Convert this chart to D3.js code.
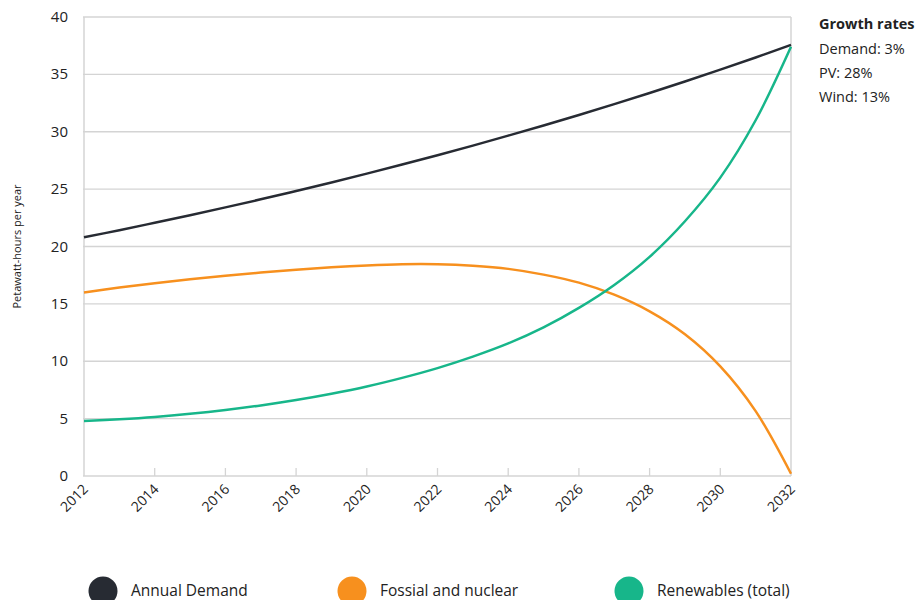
<!DOCTYPE html>
<html>
<head>
<meta charset="utf-8">
<script src="https://cdn.jsdelivr.net/npm/d3@7"></script>
<style>
  body { margin: 0; background: #fff; overflow: hidden; }
  svg { font-family: "Open Sans", Lato, sans-serif; }
</style>
</head>
<body>
<svg id="chart" width="917" height="600"></svg>
<script>
// years on the x axis
var years = d3.range(2012, 2033)
var xTicks = [2012, 2014, 2016, 2018, 2020, 2022, 2024, 2026, 2028, 2030, 2032]
var yTicks = [0, 5, 10, 15, 20, 25, 30, 35, 40]

// values (PWh per year)
var demand = [20.80, 21.42, 22.07, 22.73, 23.41, 24.11, 24.84, 25.58, 26.35, 27.14, 27.95,
              28.79, 29.66, 30.55, 31.46, 32.41, 33.38, 34.38, 35.41, 36.47, 37.57]
var fossil = [16.0, 16.42, 16.8, 17.14, 17.45, 17.73, 17.98, 18.19, 18.35, 18.45, 18.45,
              18.32, 18.05, 17.55, 16.85, 15.8, 14.35, 12.35, 9.55, 5.65, 0.2]
var renewables = [4.80, 4.95, 5.15, 5.42, 5.75, 6.15, 6.62, 7.17, 7.80, 8.55, 9.40,
                  10.40, 11.55, 12.95, 14.65, 16.65, 19.10, 22.20, 26.00, 31.00, 37.40]

var seriesNames = ["Annual Demand", "Fossial and nuclear", "Renewables (total)"]
var seriesColors = ["#272b33", "#f7901e", "#17b68a"]
var growth = ["Demand: 3%", "PV: 28%", "Wind: 13%"]

var svg = d3.select("#chart")
var margin = {left: 84, right: 126, top: 17, bottom: 124}
var width = 917, height = 600

var x = d3.scaleLinear().domain([2012, 2032]).range([margin.left, width - margin.right])
var y = d3.scaleLinear().domain([0, 40]).range([height - margin.bottom, margin.top])

// grid
svg.append("g")
  .selectAll("line")
  .data(yTicks)
  .join("line")
    .attr("x1", x(2012) - 1).attr("x2", x(2032))
    .attr("y1", d => y(d)).attr("y2", d => y(d))
    .attr("stroke", "#d4d4d4").attr("stroke-width", 1.3)

// left + right frame
svg.append("line")
  .attr("x1", x(2012)).attr("x2", x(2012)).attr("y1", y(40)).attr("y2", y(0))
  .attr("stroke", "#d4d4d4").attr("stroke-width", 1.5)
svg.append("line")
  .attr("x1", x(2032)).attr("x2", x(2032)).attr("y1", y(40)).attr("y2", y(0))
  .attr("stroke", "#d4d4d4").attr("stroke-width", 1.5)

// y axis labels
svg.append("g")
  .selectAll("text")
  .data(yTicks)
  .join("text")
    .attr("x", 68).attr("y", d => y(d) + 5)
    .attr("text-anchor", "end")
    .attr("font-size", 15)
    .attr("fill", "#222")
    .text(d => d)

svg.append("text")
  .attr("transform", `translate(21,${(y(0) + y(40)) / 2}) rotate(-90)`)
  .attr("text-anchor", "middle")
  .attr("font-size", 11)
  .attr("fill", "#222")
  .text("Petawatt-hours per year")

// x axis ticks + labels
svg.append("g")
  .selectAll("line")
  .data(xTicks.slice(1, -1))
  .join("line")
    .attr("x1", d => x(d)).attr("x2", d => x(d))
    .attr("y1", y(0) - 8).attr("y2", y(0))
    .attr("stroke", "#d4d4d4").attr("stroke-width", 1.3)

svg.append("g")
  .selectAll("text")
  .data(xTicks)
  .join("text")
    .attr("transform", d => `translate(${x(d) + 5},${y(0) + 14}) rotate(-45)`)
    .attr("text-anchor", "end")
    .attr("font-size", 14)
    .attr("fill", "#222")
    .text(d => d)

// lines
var allSeries = [demand, fossil, renewables]
var line = d3.line()
  .x((d, i) => x(years[i]))
  .y(d => y(d))
  .curve(d3.curveCatmullRom)

svg.append("g")
  .selectAll("path")
  .data(allSeries)
  .join("path")
    .attr("d", d => line(d))
    .attr("fill", "none")
    .attr("stroke", (d, i) => seriesColors[i])
    .attr("stroke-width", 2.5)

// growth rates box
svg.append("text")
  .attr("x", 819).attr("y", 29)
  .attr("font-size", 14.5).attr("font-weight", "bold").attr("fill", "#222")
  .text("Growth rates")
svg.append("g")
  .selectAll("text")
  .data(growth)
  .join("text")
    .attr("x", 819).attr("y", (d, i) => 54 + i * 24)
    .attr("font-size", 14.5).attr("fill", "#222")
    .text(d => d)

// legend
var legendX = [103, 352, 629]
var legend = svg.append("g")
  .selectAll("g")
  .data(seriesNames)
  .join("g")
    .attr("transform", (d, i) => `translate(${legendX[i]},591)`)
legend.append("circle")
  .attr("r", 14.5)
  .attr("fill", (d, i) => seriesColors[i])
legend.append("text")
  .attr("x", 28).attr("y", 5)
  .attr("font-size", 15.5).attr("fill", "#222")
  .text(d => d)
</script>
</body>
</html>
